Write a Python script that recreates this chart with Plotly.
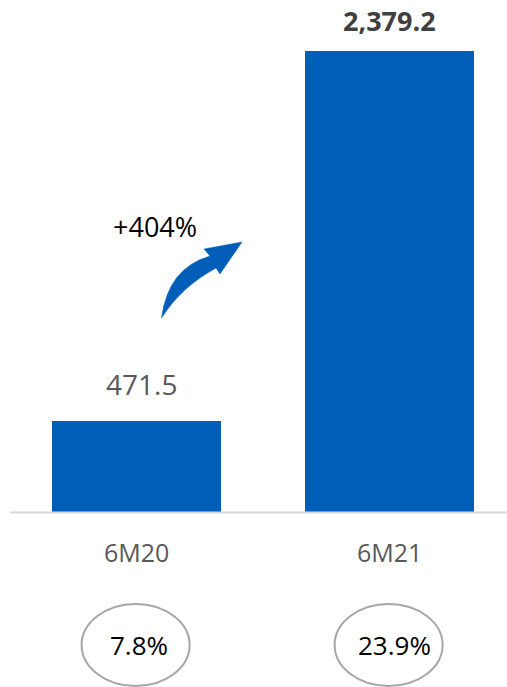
import plotly.graph_objects as go

# Data
periods = ["6M20", "6M21"]
values = [471.5, 2379.2]
value_labels = ["471.5", "2,379.2"]
margin_labels = ["7.8%", "23.9%"]
growth_label = "+404%"

BLUE = "#005EB8"
GREY_TEXT = "#595959"
FONT = "Open Sans, Liberation Sans, sans-serif"

W, H = 507, 687

fig = go.Figure()
fig.add_trace(go.Bar(
    x=list(range(len(periods))),
    y=values,
    width=0.668,
    marker=dict(color=BLUE, line=dict(width=0)),
    hoverinfo="skip",
))

# value labels above the bars
fig.add_annotation(x=0, y=values[0], text=value_labels[0], showarrow=False,
                   yanchor="bottom", yshift=16, xshift=5,
                   font=dict(family=FONT, size=28, color=GREY_TEXT))
fig.add_annotation(x=1, y=values[1], text="<b>" + value_labels[1] + "</b>",
                   showarrow=False, yanchor="bottom", yshift=9,
                   font=dict(family=FONT, size=27, color="#404040"))

# category labels and margin ellipses below the baseline
for i, (p, m) in enumerate(zip(periods, margin_labels)):
    fig.add_annotation(x=i, y=1 - 552 / H, yref="paper", text=p, showarrow=False,
                       yanchor="middle",
                       font=dict(family=FONT, size=25, color=GREY_TEXT))
    fig.add_shape(type="circle", xref="x", yref="paper",
                  x0=i - 0.217, x1=i + 0.21,
                  y0=1 - 686 / H, y1=1 - 604 / H,
                  line=dict(color="#A6A6A6", width=2), fillcolor="rgba(0,0,0,0)")
    fig.add_annotation(x=i + 0.01 + 0.01 * i, y=1 - 645 / H, yref="paper", text=m,
                       showarrow=False, yanchor="middle",
                       font=dict(family=FONT, size=26, color="#000000"))

# baseline
fig.add_shape(type="line", xref="x", yref="y", x0=-0.5, x1=1.6, y0=0, y1=0,
              line=dict(color="#D9D9D9", width=2))

# growth label and curved arrow
fig.add_annotation(x=155 / W, y=1 - 226 / H, xref="paper", yref="paper",
                   text=growth_label, showarrow=False,
                   xanchor="center", yanchor="middle",
                   font=dict(family=FONT, size=27, color="#000000"))


def px(x, y):
    return f"{x / W:.5f},{1 - y / H:.5f}"


arrow_path = (
    f"M {px(161.5, 318)} "
    f"Q {px(168, 268)} {px(210, 256)} "
    f"L {px(204, 249)} "
    f"L {px(242, 242)} "
    f"L {px(220, 274)} "
    f"L {px(216, 268)} "
    f"Q {px(181, 287)} {px(161.5, 318)} Z"
)
fig.add_shape(type="path", xref="paper", yref="paper", path=arrow_path,
              fillcolor=BLUE, line=dict(color=BLUE, width=0.5))

# scale: 2379.2 units span 462 px, baseline 512.5 px from top
ppu = 462 / 2379.2
y_min = -(H - 512.5) / ppu
y_max = 512.5 / ppu
x_min = -136.5 / 253
x_max = (W - 136.5) / 253

fig.update_layout(
    width=W, height=H,
    margin=dict(l=0, r=0, t=0, b=0),
    paper_bgcolor="white", plot_bgcolor="white",
    showlegend=False,
    bargap=0,
    xaxis=dict(range=[x_min, x_max], visible=False, fixedrange=True),
    yaxis=dict(range=[y_min, y_max], visible=False, fixedrange=True),
)

fig.write_html("out.html", config={"displayModeBar": False})
